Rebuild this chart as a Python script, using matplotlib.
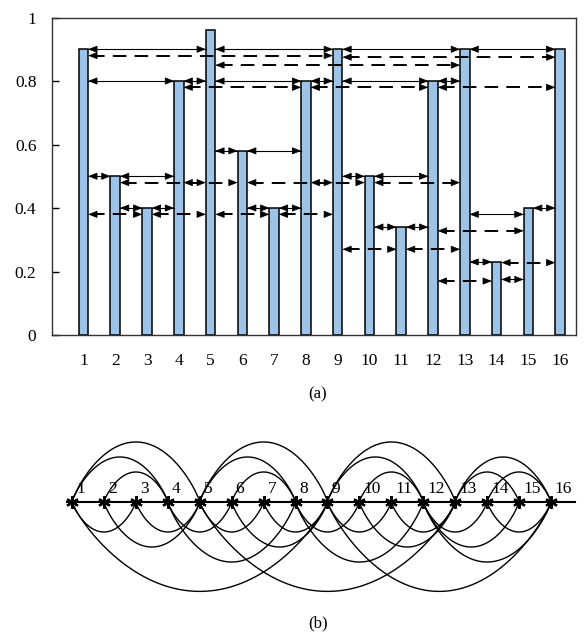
import numpy as np
import matplotlib
matplotlib.use('Agg')
import matplotlib.pyplot as plt

plt.rcParams['font.family'] = ['Liberation Serif', 'DejaVu Serif']

# ---------------- data ----------------
nodes = list(range(1, 17))
values = [0.90, 0.50, 0.40, 0.80, 0.96, 0.58, 0.40, 0.80,
          0.90, 0.50, 0.34, 0.80, 0.90, 0.23, 0.40, 0.90]
yticks = [0, 0.2, 0.4, 0.6, 0.8, 1]
yticklabels = ['0', '0.2', '0.4', '0.6', '0.8', '1']

# horizontal visibility links (solid): from, to, drawn level
hvg_from = [1, 1, 1, 2, 2, 3, 4, 5, 5, 5, 6, 6, 7, 8, 9, 9, 9, 10, 10, 11, 12, 13, 13, 13, 14, 15]
hvg_to   = [2, 4, 5, 3, 4, 4, 5, 6, 8, 9, 7, 8, 8, 9, 10, 12, 13, 11, 12, 12, 13, 14, 15, 16, 15, 16]
hvg_lvl  = [0.50, 0.80, 0.90, 0.40, 0.50, 0.40, 0.80, 0.58, 0.80, 0.90, 0.40, 0.58, 0.40, 0.80,
            0.50, 0.80, 0.90, 0.34, 0.50, 0.34, 0.80, 0.23, 0.38, 0.90, 0.175, 0.40]

# penetrable links (dashed): from, to, drawn level
lp_from = [1, 1, 2, 3, 4, 4, 5, 5, 6, 7, 8, 8, 9, 9, 10, 11, 12, 12, 12, 14]
lp_to   = [3, 9, 5, 5, 6, 8, 7, 13, 9, 9, 10, 12, 11, 16, 13, 13, 14, 15, 16, 16]
lp_lvl  = [0.38, 0.88, 0.48, 0.38, 0.48, 0.78, 0.38, 0.85, 0.48, 0.38, 0.48, 0.78,
           0.27, 0.875, 0.48, 0.27, 0.17, 0.328, 0.78, 0.228]

# graph (b): arcs above and below the node line
up_from = [1, 1, 2, 5, 5, 6, 9, 9, 10, 13, 13, 14]
up_to   = [4, 5, 4, 8, 9, 8, 12, 13, 12, 15, 16, 16]
dn_from = [1, 1, 2, 3, 4, 4, 5, 5, 6, 7, 8, 8, 9, 9, 10, 11, 12, 12, 12, 14]
dn_to   = [3, 9, 5, 5, 6, 8, 7, 13, 9, 9, 10, 12, 11, 16, 13, 13, 14, 15, 16, 16]

# ---------------- figure ----------------
fig = plt.figure(figsize=(5.85, 6.36), dpi=100)
W, H = 585, 636

ax = fig.add_axes([51.7 / W, 1 - 335 / H, (576 - 51.7) / W, (335 - 17.5) / H])
bw = 0.3
ax.bar(nodes, values, width=bw, color='#9dc3e6', edgecolor='black', linewidth=1.1, zorder=2)
ax.set_xlim(0, 16.5)
ax.set_ylim(0, 1)
ax.set_yticks(yticks)
ax.set_yticklabels(yticklabels)
ax.set_xticks(nodes)
ax.set_xticklabels([str(n) for n in nodes])
ax.tick_params(axis='y', direction='in', length=5, width=1, pad=11, labelsize=12.5)
ax.tick_params(axis='x', length=0, pad=13, labelsize=12.5)
for s in ax.spines.values():
    s.set_linewidth(1.0)
    s.set_color('#333333')

hl = 0.17  # arrow head length (data units)


def link(a, b, y, dashed):
    x0 = a + bw / 2
    x1 = b - bw / 2
    if dashed:
        ax.plot([x0 + hl * 0.6, x1 - hl * 0.6], [y, y], color='black', lw=1.4,
                ls=(0, (7.0, 4.2)), zorder=3, solid_capstyle='butt', dash_capstyle='butt')
    else:
        ax.plot([x0, x1], [y, y], color='black', lw=0.8, zorder=3)
    for xt, xs in ((x0, x0 + hl), (x1, x1 - hl)):
        ax.annotate('', xy=(xt, y), xytext=(xs, y),
                    arrowprops=dict(arrowstyle='-|>,head_length=0.55,head_width=0.22',
                                    color='black', lw=0.6, shrinkA=0, shrinkB=0,
                                    mutation_scale=10),
                    zorder=4)


for a, b, y in zip(hvg_from, hvg_to, hvg_lvl):
    link(a, b, y, False)
for a, b, y in zip(lp_from, lp_to, lp_lvl):
    link(a, b, y, True)

fig.text(318 / W, 1 - 394 / H, '(a)', ha='center', va='center', fontsize=12)
fig.text(318 / W, 1 - 623 / H, '(b)', ha='center', va='center', fontsize=12)

# ---------------- graph (b) ----------------
sp = 31.93  # px per node
x_left = 1 - 72 / sp
x_right = 1 + (W - 72) / sp
bh = 0.37 * H
ax2 = fig.add_axes([0, 0, 1, 0.37])
base_from_bottom = (H - 502) / sp
ax2.set_xlim(x_left, x_right)
ax2.set_ylim(-base_from_bottom, bh / sp - base_from_bottom)
ax2.axis('off')

ax2.plot([1 - 5.3 / sp, 16 + 24 / sp], [0, 0], color='black', lw=1.5, zorder=3)

u = np.linspace(-1, 1, 200)
shape = np.clip(1 - u ** 2, 0, None) ** 0.85
for a, b in zip(up_from, up_to):
    c = (a + b) / 2
    r = (b - a) / 2
    h = 0.94 * r
    ax2.plot(c + r * u, h * shape, color='black', lw=1.0, zorder=2)
for a, b in zip(dn_from, dn_to):
    c = (a + b) / 2
    r = (b - a) / 2
    h = min(0.94 * r, 2.8)
    ax2.plot(c + r * u, -h * shape, color='black', lw=1.0, zorder=2)

ax2.plot(nodes, [0] * len(nodes), ls='none', marker=(6, 2, 0), markersize=9,
         markeredgewidth=1.6, color='black', zorder=4)
for n in nodes:
    ax2.text(n + 4 / sp, 5 / sp, str(n), ha='left', va='bottom', fontsize=12.5, zorder=5)

fig.savefig('out.png', dpi=100)
